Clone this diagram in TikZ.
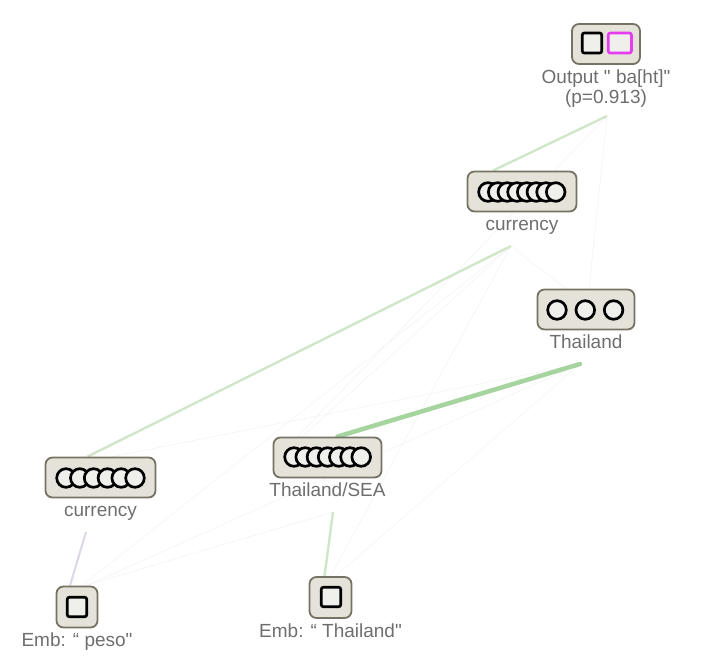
\documentclass[tikz,border=0pt]{standalone}
\usepackage{fontspec}
\newfontfamily\lblfont{Liberation Sans}
\usetikzlibrary{positioning,backgrounds}
\definecolor{boxfill}{HTML}{E5E3D9}
\definecolor{boxline}{HTML}{767264}
\definecolor{unitfill}{HTML}{EFEFEC}
\definecolor{lblgray}{HTML}{6E6E6E}
\definecolor{posedge}{HTML}{CFE7C8}
\definecolor{strongedge}{HTML}{A6D49E}
\definecolor{negedge}{HTML}{DDD6E8}
\definecolor{faint}{HTML}{F1F1F1}
\definecolor{pinkunit}{HTML}{E63CF0}
\begin{document}
\begin{tikzpicture}[x=1pt,y=-1pt,
  feat/.style={draw=boxline,fill=boxfill,line width=1.8pt,rounded corners=7pt,minimum height=40pt,inner sep=0pt},
  lbl/.style={text=lblgray,font=\lblfont\fontsize{19}{20}\selectfont,align=center,inner sep=0pt},
  onelbl/.style={lbl,text height=14pt,text depth=4pt},
  unit/.style={draw=black,fill=unitfill,line width=2.7pt},
  sq/.style={draw=black,fill=unitfill,line width=2.7pt,rounded corners=2pt},
  wpos/.style={draw=posedge,line width=2.4pt},
  wstrong/.style={draw=strongedge,line width=4.5pt,line cap=round},
  wneg/.style={draw=negedge,line width=2pt},
  wfaint/.style={draw=faint,line width=0.5pt}]
\useasboundingbox (0,0) rectangle (706,668);
% feature boxes
\node[feat,minimum width=68pt] (out) at (606,44) {};
\node[feat,minimum width=109pt] (cur2) at (522,191.5) {};
\node[feat,minimum width=97pt] (thai) at (586,309.5) {};
\node[feat,minimum width=110pt] (cur1) at (100.5,477.5) {};
\node[feat,minimum width=108pt] (sea) at (327.5,457.5) {};
\node[feat,minimum width=41pt,minimum height=41pt] (embp) at (77,607) {};
\node[feat,minimum width=42pt,minimum height=41pt] (embt) at (330.5,597.5) {};
% labels
\node[lbl,below=5pt of out] (outl) {Output " ba[ht]"\\(p=0.913)};
\node[onelbl,below=4pt of cur2] (cur2l) {currency};
\node[onelbl,below=4pt of thai] (thail) {Thailand};
\node[onelbl,below=4pt of cur1] (cur1l) {currency};
\node[onelbl,below=4pt of sea] (seal) {Thailand/SEA};
\node[onelbl,below=4pt of embp] (embpl) {Emb: “ peso"};
\node[onelbl,below=4pt of embt] (embtl) {Emb: “ Thailand"};
% units
\foreach \cx/\cy/\n/\d in {488/192/8/9.67,294/457/7/11.2,66/478/6/13.8,557/310/3/28.3}
  \foreach \i in {1,...,\n} \draw[unit] (\cx+\i*\d-\d,\cy) circle (9.3pt);
\draw[sq] (582.3,33) rectangle (601.7,53);
\draw[sq,draw=pinkunit] (608.3,33) rectangle (631.4,53);
\draw[sq] (67.3,597.3) rectangle (86.7,616.7);
\draw[sq] (321.3,587.3) rectangle (340.7,606.7);
% edge ends
\coordinate (outs) at (607,116);
\coordinate (cur2s) at (511,246);
\coordinate (thais) at (580,364);
\coordinate (seas) at (333,512);
\coordinate (cur1s) at (86,532);
\begin{scope}[on background layer]
% faint edges
\draw[wfaint] (outs) -- ([xshift=3pt]thai.north);
\draw[wfaint] (outs) -- ([xshift=-30pt]sea.north);
\draw[wfaint] (cur2s) -- ([xshift=-20pt]thai.north);
\draw[wfaint] (cur2s) -- ([xshift=-25pt]sea.north);
\draw[wfaint] (cur2s) -- ([xshift=5pt]embp.north);
\draw[wfaint] (cur2s) -- (embt.north);
\draw[wfaint] (thais) -- ([xshift=12pt]cur1.north);
\draw[wfaint] (thais) -- ([xshift=10pt]embp.north);
\draw[wfaint] (thais) -- ([xshift=5pt]embt.north);
\draw[wfaint] (seas) -- ([xshift=8pt]embp.north);
% strong edges
\draw[wpos] (outs) -- ([xshift=-29pt]cur2.north);
\draw[wpos] (cur2s) -- ([xshift=-13pt]cur1.north);
\draw[wstrong] (thais) -- ([xshift=10pt]sea.north);
\draw[wneg] (cur1s) -- ([xshift=-7pt]embp.north);
\draw[wpos] (seas) -- ([xshift=-6pt]embt.north);
\end{scope}
\end{tikzpicture}
\end{document}
